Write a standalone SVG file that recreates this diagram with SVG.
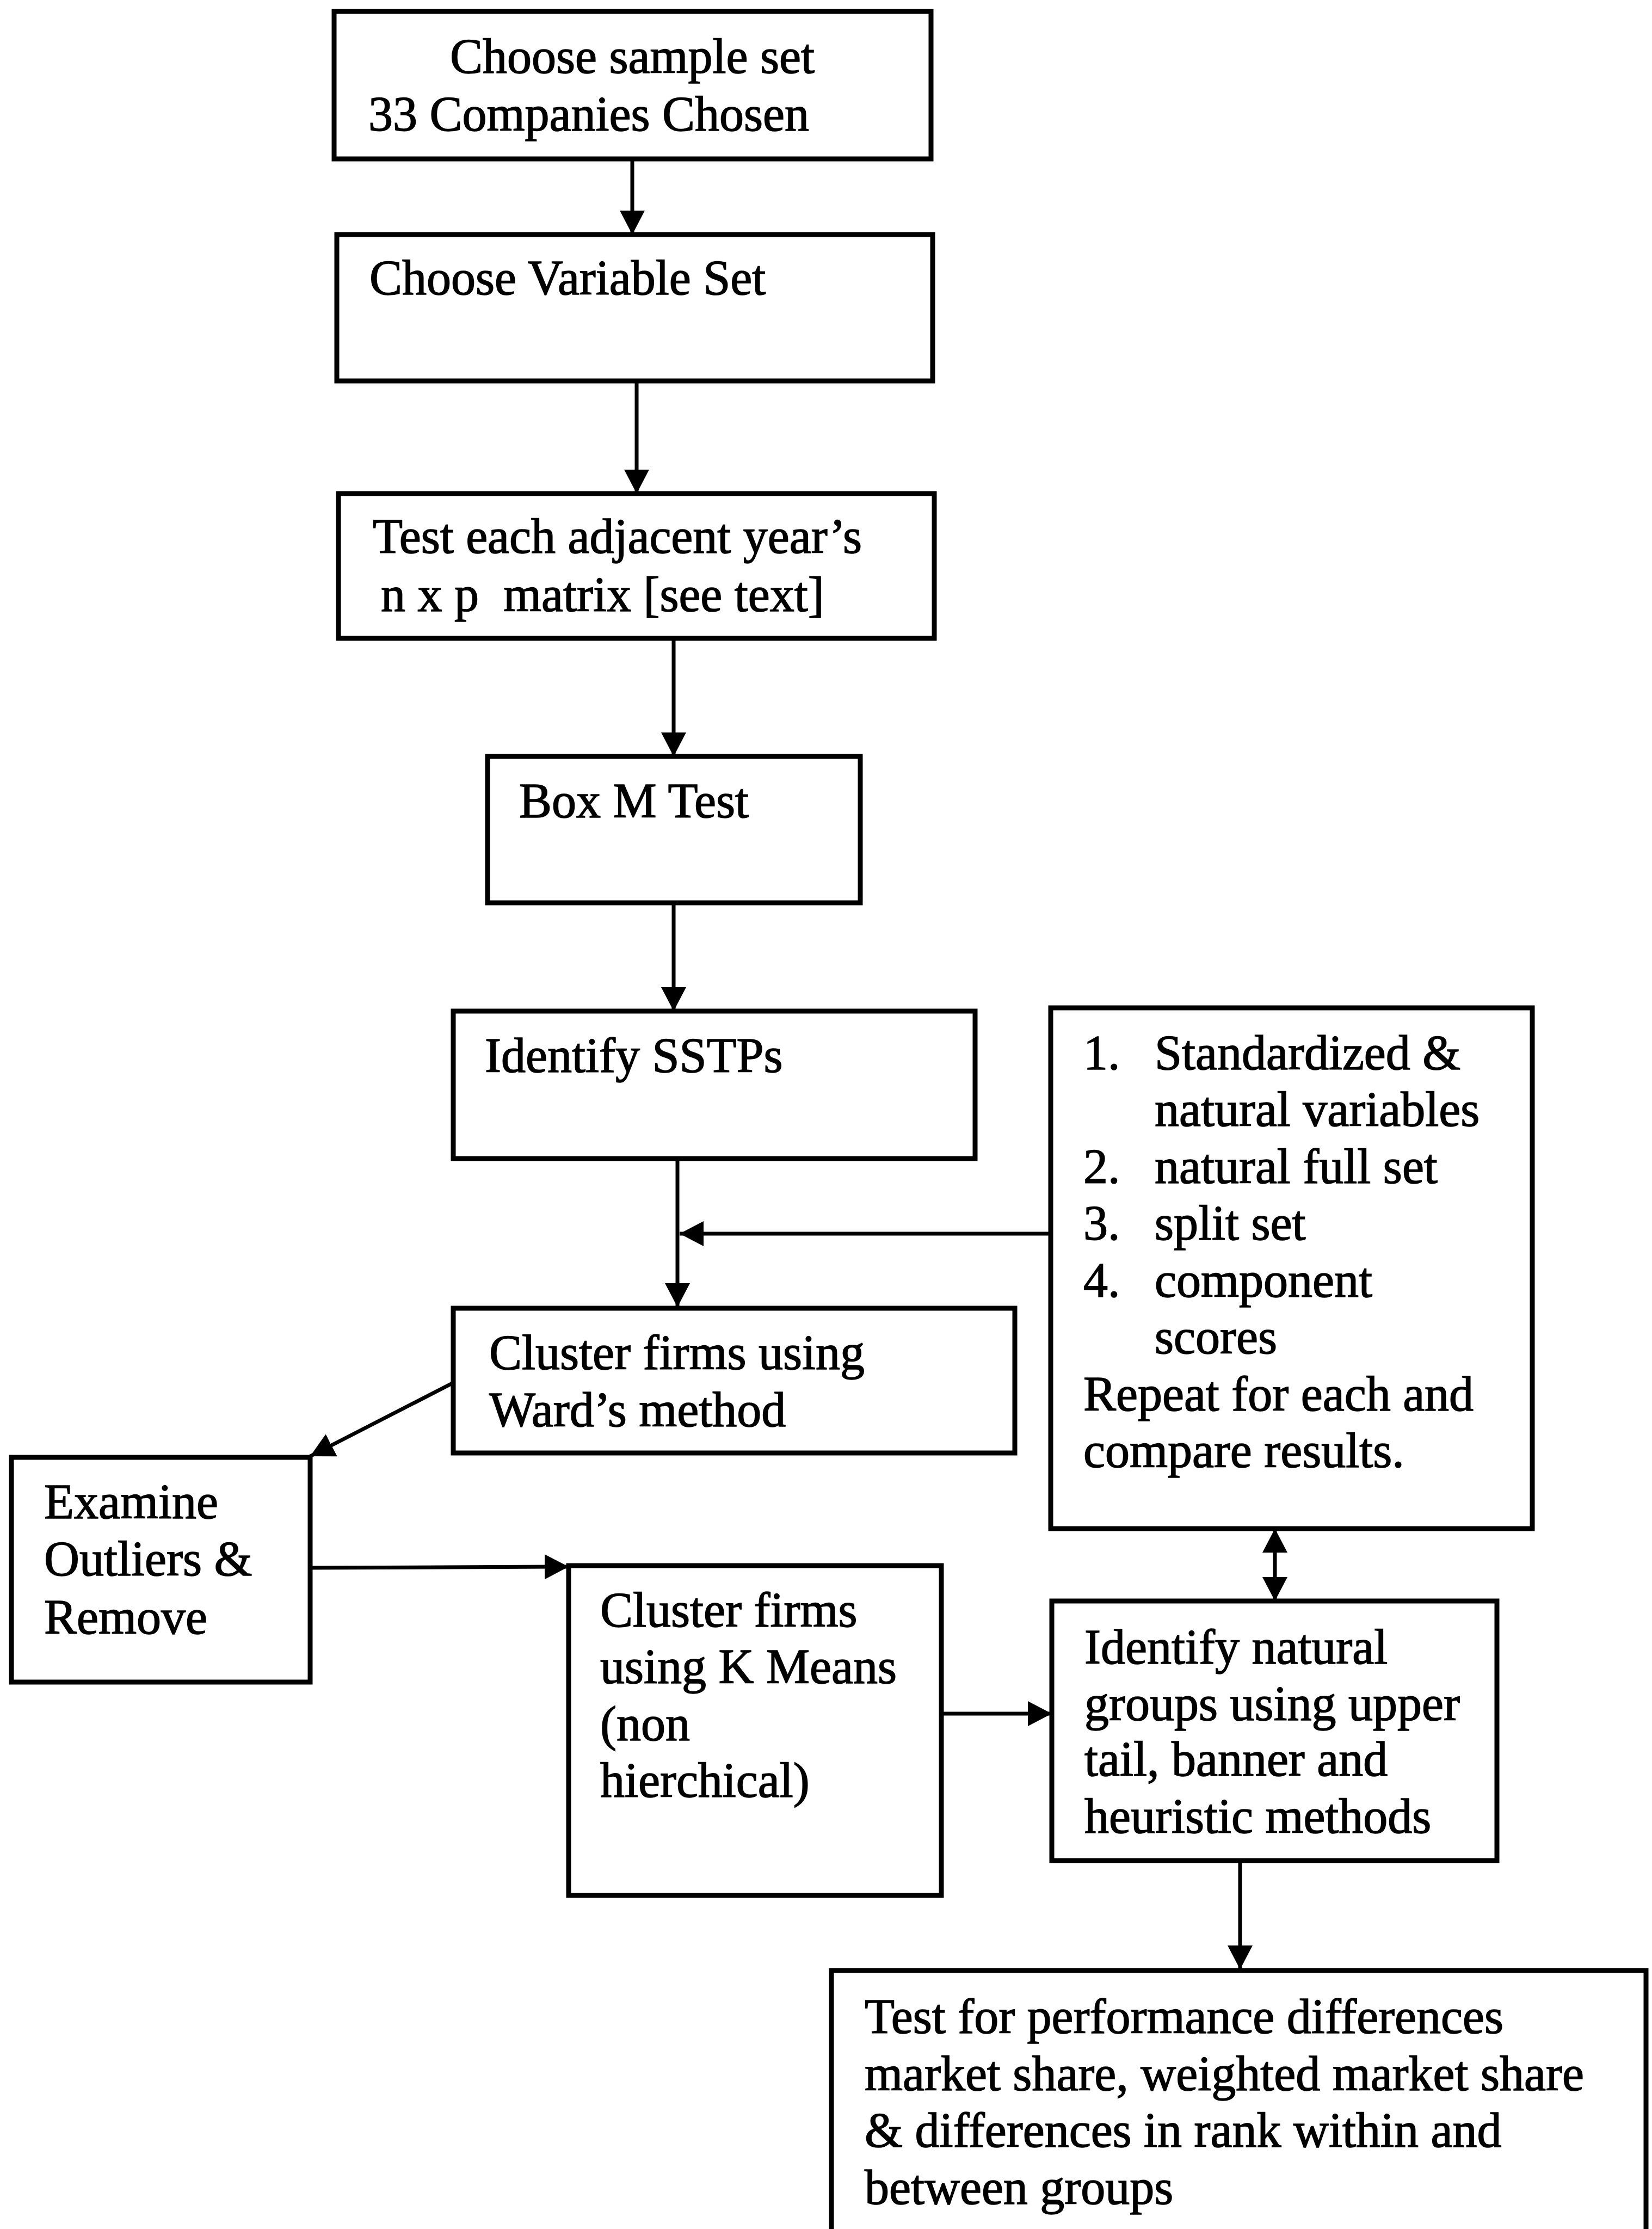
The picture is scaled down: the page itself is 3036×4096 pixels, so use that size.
<svg xmlns="http://www.w3.org/2000/svg" width="3036" height="4096" viewBox="0 0 3036 4096">
<style>
.box{fill:#fff;stroke:#000;stroke-width:9}
.t{font-family:"Liberation Serif","Times New Roman",serif;font-size:90px;fill:#000;stroke:#000;stroke-width:1.5;white-space:pre}
.c{fill:none;stroke:#000;stroke-width:7}
</style>
<defs>
<marker id="ah" markerUnits="userSpaceOnUse" markerWidth="46" markerHeight="46" refX="44" refY="23" orient="auto-start-reverse" viewBox="0 0 46 46">
<path d="M0,0 L44,23 L0,46 z" fill="#000"/>
</marker>
</defs>
<rect width="3036" height="4096" fill="#fff"/>
<g id="connectors">
<line class="c" x1="1162" y1="292" x2="1162" y2="431" marker-end="url(#ah)"/>
<line class="c" x1="1170" y1="700" x2="1170" y2="907" marker-end="url(#ah)"/>
<line class="c" x1="1238" y1="1173" x2="1238" y2="1390" marker-end="url(#ah)"/>
<line class="c" x1="1238" y1="1659" x2="1238" y2="1858" marker-end="url(#ah)"/>
<line class="c" x1="1245" y1="2129" x2="1245" y2="2402" marker-end="url(#ah)"/>
<line class="c" x1="1931" y1="2267" x2="1249" y2="2267" marker-end="url(#ah)"/>
<line class="c" x1="833" y1="2541" x2="570" y2="2676" marker-end="url(#ah)"/>
<line class="c" x1="570" y1="2881" x2="1045" y2="2879" marker-end="url(#ah)"/>
<line class="c" x1="1730" y1="3149" x2="1933" y2="3149" marker-end="url(#ah)"/>
<line class="c" x1="2343" y1="2809" x2="2343" y2="2942" marker-start="url(#ah)" marker-end="url(#ah)"/>
<line class="c" x1="2279" y1="3419" x2="2279" y2="3619" marker-end="url(#ah)"/>
</g>
<g id="n1">
<rect class="box" x="614" y="21" width="1097" height="271"/>
<text class="t" x="827" y="134">Choose sample set</text>
<text class="t" x="677" y="240">33 Companies Chosen</text>
</g>
<g id="n2">
<rect class="box" x="619" y="431" width="1095" height="269"/>
<text class="t" x="679" y="541">Choose Variable Set</text>
</g>
<g id="n3">
<rect class="box" x="622" y="907" width="1095" height="266"/>
<text class="t" x="685" y="1016">Test each adjacent year’s</text>
<text class="t" x="700" y="1123">n x p  matrix [see text]</text>
</g>
<g id="n4">
<rect class="box" x="896" y="1390" width="685" height="269"/>
<text class="t" x="954" y="1502">Box M Test</text>
</g>
<g id="n5">
<rect class="box" x="833" y="1858" width="959" height="271"/>
<text class="t" x="891" y="1970">Identify SSTPs</text>
</g>
<g id="n6">
<rect class="box" x="833" y="2404" width="1032" height="266"/>
<text class="t" x="899" y="2516">Cluster firms using</text>
<text class="t" x="899" y="2621">Ward’s method</text>
</g>
<g id="n7">
<rect class="box" x="21" y="2678" width="549" height="413"/>
<text class="t" x="81" y="2790">Examine</text>
<text class="t" x="81" y="2895">Outliers &amp;</text>
<text class="t" x="81" y="3002">Remove</text>
</g>
<g id="n8">
<rect class="box" x="1045" y="2877" width="685" height="606"/>
<text class="t" x="1103" y="2989">Cluster firms</text>
<text class="t" x="1103" y="3093">using K Means</text>
<text class="t" x="1103" y="3198">(non</text>
<text class="t" x="1103" y="3302">hierchical)</text>
</g>
<g id="n9">
<rect class="box" x="1931" y="1852" width="885" height="957"/>
<text class="t" x="1991" y="1965">1.</text>
<text class="t" x="2122" y="1965">Standardized &amp;</text>
<text class="t" x="2122" y="2069">natural variables</text>
<text class="t" x="1991" y="2174">2.</text>
<text class="t" x="2122" y="2174">natural full set</text>
<text class="t" x="1991" y="2278">3.</text>
<text class="t" x="2122" y="2278">split set</text>
<text class="t" x="1991" y="2383">4.</text>
<text class="t" x="2122" y="2383">component</text>
<text class="t" x="2122" y="2487">scores</text>
<text class="t" x="1991" y="2592">Repeat for each and</text>
<text class="t" x="1991" y="2696">compare results.</text>
</g>
<g id="n10">
<rect class="box" x="1933" y="2942" width="818" height="477"/>
<text class="t" x="1993" y="3057">Identify natural</text>
<text class="t" x="1993" y="3161">groups using upper</text>
<text class="t" x="1993" y="3263">tail, banner and</text>
<text class="t" x="1993" y="3368">heuristic methods</text>
</g>
<g id="n11">
<rect class="box" x="1528" y="3621" width="1497" height="520"/>
<text class="t" x="1589" y="3736">Test for performance differences</text>
<text class="t" x="1589" y="3841">market share, weighted market share</text>
<text class="t" x="1589" y="3945">&amp; differences in rank within and</text>
<text class="t" x="1589" y="4050">between groups</text>
</g>
</svg>
